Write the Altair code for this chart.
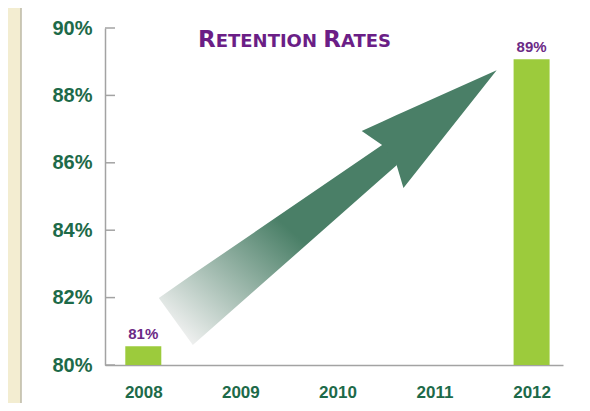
import altair as alt
import pandas as pd

# ---- data ----
years = [2008, 2009, 2010, 2011, 2012]
bar_years = [2008, 2012]
rates = [80.56, 89.07]
rate_labels = ["81%", "89%"]
y_ticks = [80, 82, 84, 86, 88, 90]

# decorative arrow outline, in data units (year, percent)
shaft_x = [2008.16, 2008.51, 2010.46, 2010.61]
shaft_top = [81.99, 82.69, 86.53, 86.83]
shaft_bottom = [81.99, 80.59, 85.55, 85.93]
head_x = [2010.25, 2010.46, 2010.61, 2010.68, 2011.64]
head_top = [86.94, 87.22, 87.42, 87.51, 88.75]
head_bottom = [86.94, 86.53, 85.93, 85.25, 88.75]

GREEN_TXT = "#1d6a49"
PURPLE = "#6c2a86"
TITLE_PURPLE = "#6b1e86"
BAR = "#9ccb3c"
ARROW = "#4a7f67"
AXIS_GREY = "#a3a3a3"
CREAM = "#f3edd1"

bar_df = pd.DataFrame({"year": bar_years, "rate": rates, "label": rate_labels})
shaft_df = pd.DataFrame({"x": shaft_x, "top": shaft_top, "bottom": shaft_bottom})
head_df = pd.DataFrame({"x": head_x, "top": head_top, "bottom": head_bottom})
tick_df = pd.DataFrame({"v": y_ticks})
one = pd.DataFrame({"a": [0]})

x_scale = alt.Scale(domain=[2007.657, 2012.272], nice=False, zero=False)
y_scale = alt.Scale(domain=[80, 90], nice=False, zero=False)

x_axis = alt.Axis(values=years, format="d", title=None, ticks=False, grid=False,
                  domainColor=AXIS_GREY, domainWidth=1.5,
                  labelFont="Liberation Sans", labelFontWeight="bold",
                  labelFontSize=17, labelColor=GREEN_TXT, labelPadding=19)
y_axis = alt.Axis(values=y_ticks, labelExpr="datum.value + '%'", title=None,
                  ticks=False, grid=False, domainColor=AXIS_GREY, domainWidth=1.5,
                  labelFont="Liberation Sans", labelFontWeight="bold",
                  labelFontSize=20, labelColor=GREEN_TXT, labelPadding=13)

X = lambda f: alt.X(f, type="quantitative", scale=x_scale, axis=x_axis)
Y = lambda f: alt.Y(f, type="quantitative", scale=y_scale, axis=y_axis)

strip = alt.Chart(one).mark_rect(color=CREAM).encode(
    x=alt.value(-97), x2=alt.value(-84), y=alt.value(-20), y2=alt.value(375))
border = alt.Chart(one).mark_rule(color="#bdb8a6", strokeWidth=1.5).encode(
    x=alt.value(-84), y=alt.value(-20), y2=alt.value(375))

shaft = alt.Chart(shaft_df).mark_area(
    orient="vertical", interpolate="linear",
    color=alt.Gradient(
        gradient="linear",
        stops=[alt.GradientStop(color="#ffffff", offset=0),
               alt.GradientStop(color="#eceeed", offset=0.08),
               alt.GradientStop(color=ARROW, offset=0.55),
               alt.GradientStop(color=ARROW, offset=1)],
        x1=0, y1=1, x2=1, y2=0)
).encode(x=X("x"), y=Y("top"), y2="bottom:Q")

head = alt.Chart(head_df).mark_area(orient="vertical", interpolate="linear", color=ARROW).encode(
    x=X("x"), y=Y("top"), y2="bottom:Q")

bars = alt.Chart(bar_df).mark_bar(size=36, color=BAR).encode(
    x=X("year"), y=Y("rate"), y2=alt.datum(80))

labels = alt.Chart(bar_df).mark_text(
    dy=-4, baseline="bottom", font="Liberation Sans", fontWeight="bold",
    fontSize=15, color=PURPLE).encode(x=X("year"), y=Y("rate"), text="label:N")

ticks = alt.Chart(tick_df).mark_rule(color=AXIS_GREY, strokeWidth=1.5).encode(
    y=Y("v"), x=alt.value(0), x2=alt.value(10))

def title_piece(txt, xpos, size):
    return alt.Chart(one).mark_text(
        text=txt, align="left", baseline="alphabetic", font="DejaVu Sans",
        fontWeight="bold", fontSize=size, color=TITLE_PURPLE
    ).encode(x=alt.value(xpos), y=alt.value(19))

title_layers = [
    title_piece("R", 93, 23),
    title_piece("ETENTION", 110.7, 18),
    title_piece("R", 218.3, 23),
    title_piece("ATES", 236, 18),
]

chart = alt.layer(strip, border, shaft, head, bars, labels, ticks, *title_layers).properties(
    width=458, height=337,
    padding={"left": 97, "top": 20, "right": 19, "bottom": 38},
    autosize="none", background="white"
).configure_view(stroke=None)

chart.save("out.html", embed_options={"renderer": "svg", "actions": False})
